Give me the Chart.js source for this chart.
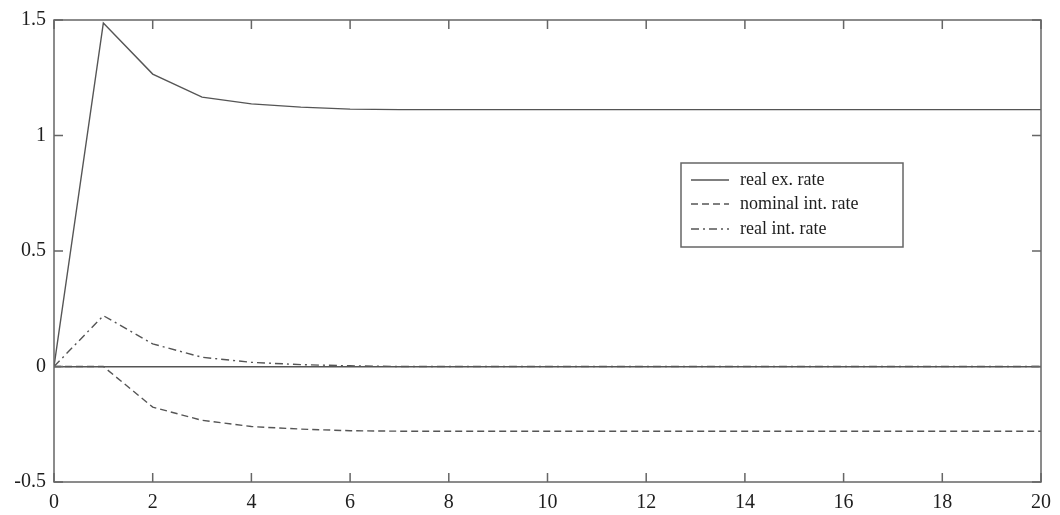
<!DOCTYPE html>
<html>
<head>
<meta charset="utf-8">
<script src="https://cdn.jsdelivr.net/npm/chart.js@4.4.1/dist/chart.umd.min.js"></script>
<style>
  html, body { margin: 0; padding: 0; background: #fff; }
  #wrap { width: 1060px; height: 515px; position: relative; }
</style>
</head>
<body>
<div id="wrap"><canvas id="chart"></canvas></div>
<script>
const periods = [0, 1, 2, 3, 4, 5, 6, 7, 8, 9, 10, 11, 12, 13, 14, 15, 16, 17, 18, 19, 20];
const realExRate = [0, 1.487, 1.266, 1.166, 1.137, 1.123, 1.114, 1.112, 1.112, 1.112, 1.112, 1.112, 1.112, 1.112, 1.112, 1.112, 1.112, 1.112, 1.112, 1.112, 1.112];
const nominalIntRate = [0, 0, -0.176, -0.233, -0.26, -0.271, -0.278, -0.28, -0.28, -0.28, -0.28, -0.28, -0.28, -0.28, -0.28, -0.28, -0.28, -0.28, -0.28, -0.28, -0.28];
const realIntRate = [0, 0.22, 0.098, 0.04, 0.018, 0.008, 0.003, 0, 0, 0, 0, 0, 0, 0, 0, 0, 0, 0, 0, 0, 0];
const xTicks = [0, 2, 4, 6, 8, 10, 12, 14, 16, 18, 20];
const yTicks = [-0.5, 0, 0.5, 1, 1.5];
const yTickLabels = ['-0.5', '0', '0.5', '1', '1.5'];

const lineColor = '#555';
const serif = "'Liberation Serif', 'DejaVu Serif', serif";

const toPoints = (vals) => periods.map((p, i) => ({ x: p, y: vals[i] }));

// frame + inward tick marks, matlab style
const framePlugin = {
    id: 'frame',
    afterDraw(chart) {
        const { ctx, chartArea: a, scales } = chart;
        const len = 9;
        ctx.save();
        ctx.strokeStyle = '#666';
        ctx.lineWidth = 1.5;
        ctx.strokeRect(a.left, a.top, a.right - a.left, a.bottom - a.top);
        ctx.beginPath();
        xTicks.forEach(v => {
            const px = scales.x.getPixelForValue(v);
            ctx.moveTo(px, a.bottom); ctx.lineTo(px, a.bottom - len);
            ctx.moveTo(px, a.top); ctx.lineTo(px, a.top + len);
        });
        yTicks.forEach(v => {
            const py = scales.y.getPixelForValue(v);
            ctx.moveTo(a.left, py); ctx.lineTo(a.left + len, py);
            ctx.moveTo(a.right, py); ctx.lineTo(a.right - len, py);
        });
        ctx.stroke();
        ctx.restore();
    }
};

// legend box drawn inside the plot
const boxLegend = {
    id: 'boxLegend',
    afterDraw(chart) {
        const { ctx } = chart;
        const bx = 681, by = 163, bw = 222, bh = 84;
        ctx.save();
        ctx.fillStyle = '#fff';
        ctx.fillRect(bx, by, bw, bh);
        ctx.strokeStyle = '#666';
        ctx.lineWidth = 1.5;
        ctx.strokeRect(bx, by, bw, bh);
        ctx.font = '18px ' + serif;
        ctx.textBaseline = 'middle';
        const rows = [180, 204, 229];
        chart.data.datasets.forEach((ds, i) => {
            const y = rows[i];
            ctx.strokeStyle = lineColor;
            ctx.lineWidth = 1.4;
            ctx.setLineDash(ds.borderDash || []);
            ctx.beginPath();
            ctx.moveTo(691, y); ctx.lineTo(729, y);
            ctx.stroke();
            ctx.setLineDash([]);
            ctx.fillStyle = '#1e1e1e';
            ctx.fillText(ds.label, 740, y);
        });
        ctx.restore();
    }
};

new Chart(document.getElementById('chart'), {
    type: 'line',
    data: {
        datasets: [
            { label: 'real ex. rate', data: toPoints(realExRate), borderDash: [] },
            { label: 'nominal int. rate', data: toPoints(nominalIntRate), borderDash: [7, 4] },
            { label: 'real int. rate', data: toPoints(realIntRate), borderDash: [8, 4, 2, 4] }
        ].map(ds => ({
            ...ds,
            borderColor: lineColor,
            borderWidth: 1.4,
            pointRadius: 0,
            tension: 0,
            fill: false
        }))
    },
    options: {
        responsive: true,
        maintainAspectRatio: false,
        animation: false,
        layout: { padding: { top: 19, right: 19, left: 0, bottom: 0 } },
        plugins: { legend: { display: false }, tooltip: { enabled: false } },
        scales: {
            x: {
                type: 'linear',
                min: 0, max: 20,
                afterBuildTicks: (s) => { s.ticks = xTicks.map(v => ({ value: v })); },
                afterFit: (s) => { s.height = 33; },
                grid: { display: false, drawTicks: false },
                border: { display: false },
                ticks: { padding: 9, color: '#1e1e1e', font: { family: serif, size: 20 }, maxRotation: 0 }
            },
            y: {
                min: -0.5, max: 1.5,
                afterBuildTicks: (s) => { s.ticks = yTicks.map(v => ({ value: v })); },
                afterFit: (s) => { s.width = 54; },
                grid: {
                    drawTicks: false,
                    lineWidth: 1.5,
                    color: (c) => (c.tick && c.tick.value === 0 ? '#555' : 'rgba(0,0,0,0)')
                },
                border: { display: false },
                ticks: {
                    padding: 8, color: '#1e1e1e', font: { family: serif, size: 20 },
                    callback: (v) => yTickLabels[yTicks.indexOf(v)]
                }
            }
        }
    },
    plugins: [framePlugin, boxLegend]
});
</script>
</body>
</html>
